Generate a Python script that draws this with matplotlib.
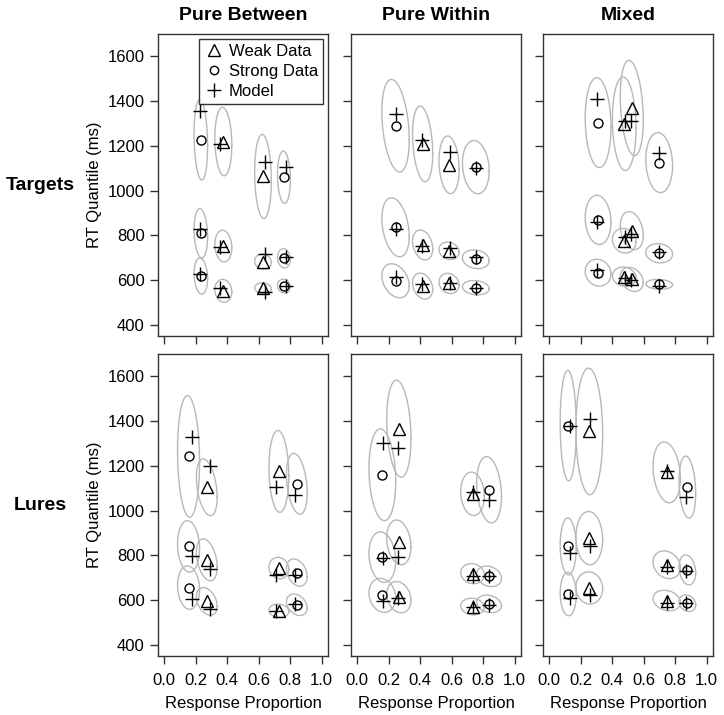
import numpy as np
import matplotlib
matplotlib.use("Agg")
import matplotlib.pyplot as plt
from matplotlib.lines import Line2D

plt.rcParams['font.family'] = ['Liberation Sans', 'DejaVu Sans']

col_titles = ["Pure Between", "Pure Within", "Mixed"]
row_titles = ["Targets", "Lures"]
y_ticks = [400, 600, 800, 1000, 1200, 1400, 1600]
x_ticks = [0.0, 0.2, 0.4, 0.6, 0.8, 1.0]

# each panel: 4 groups (sorted by x), 3 RT quantiles per group
# marker: 'o' strong data, '^' weak data
pb_tar_mark = ['o', '^', '^', 'o']
pb_tar_x = [0.232, 0.375, 0.627, 0.760]
pb_tar_y = [[1227, 809, 618], [1219, 752, 552], [1063, 682, 563], [1060, 697, 573]]
pb_tar_mx = [0.227, 0.356, 0.640, 0.770]
pb_tar_my = [[1358, 827, 625], [1209, 749, 566], [1130, 716, 548], [1107, 704, 573]]
pb_tar_sx = [0.043, 0.054, 0.053, 0.041]
pb_tar_sy = [[180, 110, 81], [153, 71, 51], [188, 34, 24], [117, 43, 31]]
pb_tar_r = [-0.15, -0.1, -0.1, -0.1]

pw_tar_mark = ['o', '^', '^', 'o']
pw_tar_x = [0.243, 0.415, 0.583, 0.753]
pw_tar_y = [[1290, 836, 597], [1209, 757, 573], [1115, 731, 585], [1105, 693, 566]]
pw_tar_mx = [0.243, 0.413, 0.590, 0.753]
pw_tar_my = [[1343, 827, 615], [1224, 752, 581], [1172, 742, 585], [1100, 704, 564]]
pw_tar_sx = [0.087, 0.064, 0.064, 0.085]
pw_tar_sy = [[207, 132, 76], [169, 67, 58], [129, 39, 45], [119, 42, 32]]
pw_tar_r = [-0.3, -0.25, -0.15, -0.15]

mx_tar_mark = ['o', '^', '^', 'o']
mx_tar_x = [0.310, 0.476, 0.524, 0.698]
mx_tar_y = [[1304, 869, 633], [1299, 776, 615], [1369, 821, 603], [1125, 720, 581]]
mx_tar_mx = [0.300, 0.480, 0.520, 0.700]
mx_tar_my = [[1411, 861, 645], [1313, 791, 608], [1313, 806, 600], [1167, 727, 573]]
mx_tar_sx = [0.082, 0.075, 0.073, 0.085]
mx_tar_sy = [[201, 110, 60], [209, 55, 43], [213, 85, 54], [134, 43, 22]]
mx_tar_r = [-0.1, -0.1, -0.25, -0.1]

pb_lur_mark = ['o', '^', '^', 'o']
pb_lur_x = [0.154, 0.270, 0.728, 0.842]
pb_lur_y = [[1242, 840, 656], [1104, 780, 594], [1175, 743, 552], [1120, 723, 579]]
pb_lur_mx = [0.175, 0.290, 0.708, 0.828]
pb_lur_my = [[1327, 795, 604], [1201, 739, 560], [1105, 710, 553], [1068, 713, 582]]
pb_lur_sx = [0.070, 0.066, 0.063, 0.066]
pb_lur_sy = [[272, 115, 97], [127, 94, 62], [183, 48, 30], [136, 61, 48]]
pb_lur_r = [-0.1, -0.35, -0.1, -0.3]

pw_lur_mark = ['o', '^', '^', 'o']
pw_lur_x = [0.159, 0.264, 0.732, 0.837]
pw_lur_y = [[1160, 792, 621], [1366, 858, 613], [1075, 718, 571], [1093, 706, 583]]
pw_lur_mx = [0.165, 0.260, 0.732, 0.837]
pw_lur_my = [[1302, 788, 598], [1280, 792, 609], [1085, 709, 570], [1049, 706, 579]]
pw_lur_sx = [0.085, 0.077, 0.075, 0.079]
pw_lur_sy = [[205, 113, 76], [217, 100, 70], [97, 45, 37], [148, 46, 39]]
pw_lur_r = [-0.15, -0.2, -0.1, -0.2]

mx_lur_mark = ['o', '^', '^', 'o']
mx_lur_x = [0.120, 0.254, 0.746, 0.877]
mx_lur_y = [[1380, 840, 627], [1354, 877, 654], [1171, 758, 598], [1105, 735, 586]]
mx_lur_mx = [0.130, 0.260, 0.746, 0.867]
mx_lur_my = [[1380, 810, 609], [1411, 840, 624], [1178, 750, 587], [1061, 732, 586]]
mx_lur_sx = [0.051, 0.085, 0.087, 0.053]
mx_lur_sy = [[247, 127, 97], [283, 119, 72], [136, 62, 46], [139, 67, 37]]
mx_lur_r = [-0.05, -0.05, -0.2, -0.2]

panels = [
    [(pb_tar_mark, pb_tar_x, pb_tar_y, pb_tar_mx, pb_tar_my, pb_tar_sx, pb_tar_sy, pb_tar_r),
     (pw_tar_mark, pw_tar_x, pw_tar_y, pw_tar_mx, pw_tar_my, pw_tar_sx, pw_tar_sy, pw_tar_r),
     (mx_tar_mark, mx_tar_x, mx_tar_y, mx_tar_mx, mx_tar_my, mx_tar_sx, mx_tar_sy, mx_tar_r)],
    [(pb_lur_mark, pb_lur_x, pb_lur_y, pb_lur_mx, pb_lur_my, pb_lur_sx, pb_lur_sy, pb_lur_r),
     (pw_lur_mark, pw_lur_x, pw_lur_y, pw_lur_mx, pw_lur_my, pw_lur_sx, pw_lur_sy, pw_lur_r),
     (mx_lur_mark, mx_lur_x, mx_lur_y, mx_lur_mx, mx_lur_my, mx_lur_sx, mx_lur_sy, mx_lur_r)],
]

W, H = 724, 715
fig = plt.figure(figsize=(W / 100, H / 100), dpi=100)

col_left = [158, 351, 543]
row_top = [34, 354]
pw, ph = 170, 302
t = np.linspace(0, 2 * np.pi, 200)

def ellipse(ax, cx, cy, sx, sy, r):
    ex = cx + sx * np.cos(t)
    ey = cy + sy * (r * np.cos(t) + np.sqrt(1 - r * r) * np.sin(t))
    ax.plot(ex, ey, color='#b8b8b8', lw=1.0, zorder=1)

for i in range(2):
    for j in range(3):
        mark, xs, ys, mxs, mys, sxs, sys_, rs = panels[i][j]
        ax = fig.add_axes([col_left[j] / W, 1 - (row_top[i] + ph) / H, pw / W, ph / H])
        for g in range(4):
            for q in range(3):
                ellipse(ax, xs[g], ys[g][q], sxs[g], sys_[g][q], rs[g])
            ax.plot([xs[g]] * 3, ys[g], ls='none', marker=mark[g],
                    ms=8 if mark[g] == '^' else 6.5, mfc='none', mec='black', mew=1.0, zorder=3)
            ax.plot([mxs[g]] * 3, mys[g], ls='none', marker='+', ms=10,
                    mec='black', mew=1.0, zorder=4)
        ax.set_xlim(-0.04, 1.04)
        ax.set_ylim(350, 1700)
        ax.set_xticks(x_ticks)
        ax.set_yticks(y_ticks)
        ax.tick_params(direction='out', length=6, width=1, labelsize=12,
                       color='#333333', labelcolor='black')
        ax.tick_params(axis='x', pad=6)
        for s in ax.spines.values():
            s.set_color('#333333')
            s.set_linewidth(1.0)
        if j == 0:
            ax.set_yticklabels([str(v) for v in y_ticks])
            fig.text(95 / W, 1 - (row_top[i] + ph / 2) / H, "RT Quantile (ms)",
                     rotation=90, ha='center', va='center', fontsize=12)
            fig.text(40 / W, 1 - (row_top[i] + ph / 2) / H, row_titles[i],
                     ha='center', va='center', fontsize=14, fontweight='bold')
        else:
            ax.set_yticklabels([])
        if i == 1:
            ax.set_xticklabels(["%.1f" % v for v in x_ticks])
            ax.set_xlabel("Response Proportion", fontsize=12, labelpad=6)
        else:
            ax.set_xticklabels([])
            fig.text((col_left[j] + pw / 2) / W, 1 - 15 / H, col_titles[j],
                     ha='center', va='center', fontsize=14, fontweight='bold')
        if i == 0 and j == 0:
            handles = [Line2D([], [], ls='none', marker='^', ms=8, mfc='none', mec='black'),
                       Line2D([], [], ls='none', marker='o', ms=6, mfc='none', mec='black'),
                       Line2D([], [], ls='none', marker='+', ms=10, mec='black')]
            leg = ax.legend(handles, ["Weak Data", "Strong Data", "Model"], loc='upper right',
                            fontsize=12, frameon=True, fancybox=False, borderaxespad=0.3,
                            handletextpad=0.3, labelspacing=0.3, borderpad=0.3,
                            handlelength=1.2)
            leg.get_frame().set_edgecolor('black')
            leg.get_frame().set_linewidth(1.0)

fig.savefig("out.png", dpi=100)
